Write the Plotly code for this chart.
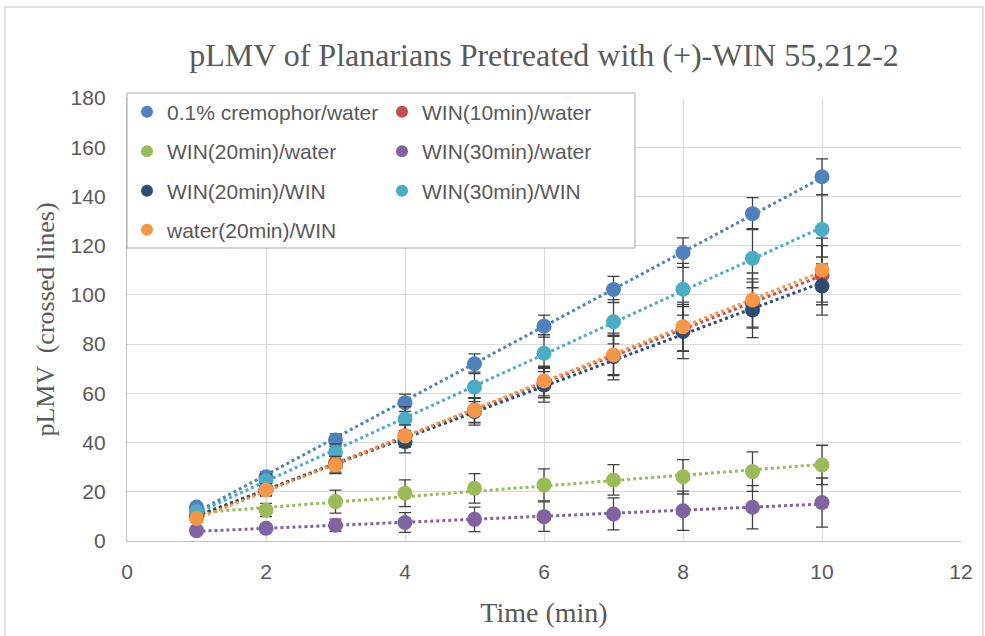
import numpy as np
import plotly.graph_objects as go

time_min = [1, 2, 3, 4, 5, 6, 7, 8, 9, 10]

series_names = ["0.1% cremophor/water", "WIN(10min)/water", "WIN(20min)/water",
                "WIN(30min)/water", "WIN(20min)/WIN", "WIN(30min)/WIN", "water(20min)/WIN"]
series_colors = ["#4F81BD", "#C0504D", "#9BBB59", "#8064A2", "#2C4D75", "#4BACC6", "#F79646"]

cremophor_water = [13.8, 26.1, 41.0, 56.2, 72.0, 87.3, 102.2, 117.2, 133.0, 148.0]
win10_water     = [9.6, 21.0, 31.5, 42.8, 53.2, 64.2, 75.2, 86.2, 96.5, 108.0]
win20_water     = [10.5, 12.6, 16.0, 19.4, 21.4, 22.8, 24.8, 26.1, 28.2, 30.9]
win30_water     = [4.2, 5.2, 6.4, 7.5, 8.8, 9.9, 11.0, 12.3, 13.7, 15.6]
win20_win       = [10.2, 21.0, 31.0, 40.3, 52.6, 63.4, 75.0, 85.1, 93.9, 103.6]
win30_win       = [11.9, 24.6, 36.0, 49.6, 62.6, 76.3, 89.1, 102.3, 114.9, 126.6]
water20_win     = [9.2, 20.7, 30.9, 42.7, 53.0, 65.0, 75.6, 87.1, 97.9, 110.1]

cremophor_water_err = [1.0, 2.0, 2.5, 3.5, 4.0, 4.5, 5.3, 6.0, 6.5, 7.3]
win10_water_err     = [1.5, 2.5, 3.5, 4.5, 5.0, 6.0, 8.0, 9.0, 10.0, 12.0]
win20_water_err     = [1.5, 2.7, 4.7, 5.4, 6.0, 6.5, 6.2, 7.0, 8.0, 8.0]
win30_water_err     = [1.0, 1.5, 2.5, 4.0, 5.0, 6.0, 6.5, 8.0, 8.8, 10.0]
win20_win_err       = [1.5, 2.5, 3.5, 4.5, 5.5, 7.0, 9.5, 11.0, 11.3, 11.8]
win30_win_err       = [1.5, 2.5, 3.5, 5.0, 6.0, 7.5, 9.0, 10.5, 12.0, 14.0]
water20_win_err     = [1.5, 2.5, 3.5, 4.5, 5.0, 6.0, 8.0, 10.0, 11.0, 13.0]

series_values = [cremophor_water, win10_water, win20_water, win30_water,
                 win20_win, win30_win, water20_win]
series_errors = [cremophor_water_err, win10_water_err, win20_water_err, win30_water_err,
                 win20_win_err, win30_win_err, water20_win_err]

x_ticks = [0, 2, 4, 6, 8, 10, 12]
y_ticks = [0, 20, 40, 60, 80, 100, 120, 140, 160, 180]

TXT = "#595959"
# plot area in pixels (for paper-coordinate conversions of decorations)
PL, PR, PT, PB = 127, 961, 98, 541
def px_x(p): return (p - PL) / (PR - PL)
def px_y(p): return (PB - p) / (PB - PT)

fig = go.Figure()

# linear trendlines (dotted), drawn first
for name, col, vals in zip(series_names, series_colors, series_values):
    k, b = np.polyfit(time_min, vals, 1)
    xs = np.array([min(time_min), max(time_min)])
    fig.add_trace(go.Scatter(x=xs, y=k * xs + b, mode="lines",
                             line=dict(color=col, width=3, dash="dot"),
                             showlegend=False, hoverinfo="skip"))

legend_ids = ["legend", "legend", "legend2", "legend2", "legend3", "legend3", "legend4"]
for name, col, vals, errs, lg in zip(series_names, series_colors, series_values,
                                     series_errors, legend_ids):
    fig.add_trace(go.Scatter(
        x=time_min, y=vals, mode="markers", name=name, legend=lg,
        marker=dict(color=col, size=15),
        error_y=dict(type="data", array=errs, visible=True,
                     color="#404040", thickness=1.3, width=6),
    ))

# outer chart border
fig.add_shape(type="rect", xref="paper", yref="paper",
              x0=px_x(5), x1=px_x(983), y0=px_y(650), y1=px_y(7),
              line=dict(color="#d9d9d9", width=1.5), layer="below")
# legend box
fig.add_shape(type="rect", xref="paper", yref="paper",
              x0=px_x(127), x1=px_x(635), y0=px_y(248), y1=px_y(93),
              line=dict(color="#a6a6a6", width=1), fillcolor="white", layer="above")

leg_common = dict(orientation="h", xanchor="left", yanchor="middle",
                  entrywidth=210, entrywidthmode="pixels",
                  bgcolor="rgba(0,0,0,0)", borderwidth=0,
                  font=dict(family="Liberation Sans", size=21, color=TXT),
                  itemsizing="constant")
row_y = [112, 151.5, 191, 230]

fig.update_layout(
    width=985, height=636,
    margin=dict(l=PL, r=985 - PR, t=PT, b=636 - PB),
    paper_bgcolor="white", plot_bgcolor="white",
    title=dict(text="pLMV of Planarians Pretreated with (+)-WIN 55,212-2",
               x=0.5, xref="paper", y=1 - 55 / 636, yref="container",
               xanchor="center", yanchor="middle",
               font=dict(family="Liberation Serif", size=32, color=TXT)),
    xaxis=dict(range=[0, 12], tickvals=x_ticks, showgrid=True, gridcolor="#d9d9d9",
               gridwidth=1.3, zeroline=False, showline=True, linecolor="#bfbfbf",
               linewidth=1.3, ticks="", ticklabelstandoff=12,
               tickfont=dict(family="Liberation Sans", size=21, color=TXT),
               title=dict(text="Time (min)", standoff=20,
                          font=dict(family="Liberation Serif", size=28, color=TXT))),
    yaxis=dict(range=[0, 180], tickvals=y_ticks, showgrid=True, gridcolor="#d9d9d9",
               gridwidth=1.3, zeroline=False, showline=True, linecolor="#bfbfbf",
               linewidth=1.3, ticks="", ticklabelstandoff=16,
               tickfont=dict(family="Liberation Sans", size=21, color=TXT),
               title=dict(text="pLMV  (crossed lines)", standoff=8,
                          font=dict(family="Liberation Serif", size=26, color=TXT))),
    legend=dict(x=0.0, y=px_y(row_y[0]), **leg_common),
    legend2=dict(x=0.0, y=px_y(row_y[1]), **leg_common),
    legend3=dict(x=0.0, y=px_y(row_y[2]), **leg_common),
    legend4=dict(x=0.0, y=px_y(row_y[3]), **leg_common),
    showlegend=True,
)

fig.write_html("out.html")
